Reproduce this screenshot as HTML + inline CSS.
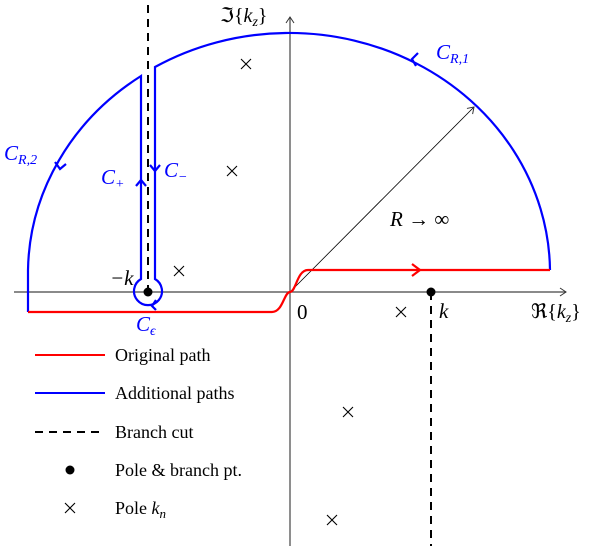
<!DOCTYPE html>
<html><head><style>body{margin:0;background:#fff}svg{display:block}text{font-family:"Liberation Serif",serif}</style></head><body>
<svg width="600" height="552" viewBox="0 0 600 552" xmlns="http://www.w3.org/2000/svg">
<defs>
<marker id="ah" markerWidth="10" markerHeight="10" refX="8" refY="5" orient="auto" markerUnits="userSpaceOnUse"><path d="M2,1 L8,5 L2,9" fill="none" stroke="#333" stroke-width="1"/></marker>
</defs>
<line x1="14" y1="292" x2="566" y2="292" stroke="#444" stroke-width="1.2" marker-end="url(#ah)"/>
<line x1="290" y1="546" x2="290" y2="17" stroke="#444" stroke-width="1.2" marker-end="url(#ah)"/>
<line x1="290" y1="292" x2="474" y2="107" stroke="#000" stroke-width="0.8" marker-end="url(#ah)"/>
<line x1="148" y1="5" x2="148" y2="292" stroke="#000" stroke-width="2" stroke-dasharray="8,6"/>
<line x1="431" y1="292" x2="431" y2="546" stroke="#000" stroke-width="2" stroke-dasharray="8,6"/>
<g fill="none" stroke="#0000ff" stroke-width="2.2">
<path d="M550,270 A261,240 0 0 0 155,67 L155,279 A14,14 0 1 1 141,279 L141,76 A261,240 0 0 0 28,270 L28,312"/>
<path d="M418,53 l-6,6 l4,7" />
<path d="M55,162 l5,7 l6,-5"/>
<path d="M136,186 l5,-6 l5,6"/>
<path d="M150,165 l5,6 l5,-6"/>
<path d="M156,300 l-4,6 l4,4"/>
</g>
<g fill="none" stroke="#ff0000" stroke-width="2.2">
<path d="M28,312 L272,312 C283,312 284,292 290,292 C296,292 297,270 308,270 L550,270"/>
<path d="M412,264 l8,6 l-8,6"/>
</g>
<circle cx="148" cy="292" r="4.5" fill="#000"/>
<circle cx="431" cy="292" r="4.5" fill="#000"/>
<g stroke="#000" stroke-width="1.1">
<path d="M241,59 l10,10 M251,59 l-10,10"/>
<path d="M227,166 l10,10 M237,166 l-10,10"/>
<path d="M174,266 l10,10 M184,266 l-10,10"/>
<path d="M396,307 l10,10 M406,307 l-10,10"/>
<path d="M343,407 l10,10 M353,407 l-10,10"/>
<path d="M327,515 l10,10 M337,515 l-10,10"/>
</g>
<g font-style="italic" font-size="21">
<text x="220" y="22" fill="#000" font-style="normal" font-size="20">ℑ{<tspan font-style="italic">k</tspan><tspan font-style="italic" font-size="14" dy="4">z</tspan><tspan dy="-4">}</tspan></text>
<text x="531" y="318" fill="#000" font-style="normal" font-size="20">ℜ{<tspan font-style="italic">k</tspan><tspan font-style="italic" font-size="14" dy="4">z</tspan><tspan dy="-4">}</tspan></text>
<text x="436" y="59" fill="#0000ff">C<tspan font-size="14" dy="4">R,1</tspan></text>
<text x="4" y="160" fill="#0000ff">C<tspan font-size="14" dy="4">R,2</tspan></text>
<text x="101" y="184" fill="#0000ff">C<tspan font-size="14" dy="4">+</tspan></text>
<text x="164" y="177" fill="#0000ff">C<tspan font-size="14" dy="4">−</tspan></text>
<text x="136" y="331" fill="#0000ff">C<tspan font-size="14" dy="4">ϵ</tspan></text>
<text x="110" y="285" fill="#000">−k</text>
<text x="439" y="318" fill="#000">k</text>
<text x="297" y="319" fill="#000" font-style="normal">0</text>
<text x="390" y="226" fill="#000">R <tspan font-style="normal">→ ∞</tspan></text>
</g>
<line x1="35" y1="355" x2="105" y2="355" stroke="#ff0000" stroke-width="2"/>
<line x1="35" y1="393" x2="105" y2="393" stroke="#0000ff" stroke-width="2"/>
<line x1="35" y1="432" x2="105" y2="432" stroke="#000" stroke-width="2" stroke-dasharray="8,6"/>
<circle cx="70" cy="470" r="4.5" fill="#000"/>
<path d="M65,503 l10,10 M75,503 l-10,10" stroke="#000" stroke-width="1.1"/>
<g font-size="18" fill="#000">
<text x="115" y="361">Original path</text>
<text x="115" y="399">Additional paths</text>
<text x="115" y="438">Branch cut</text>
<text x="115" y="476">Pole &amp; branch pt.</text>
<text x="115" y="514">Pole <tspan font-style="italic">k</tspan><tspan font-style="italic" font-size="13" dy="4">n</tspan></text>
</g>
</svg>
</body></html>
